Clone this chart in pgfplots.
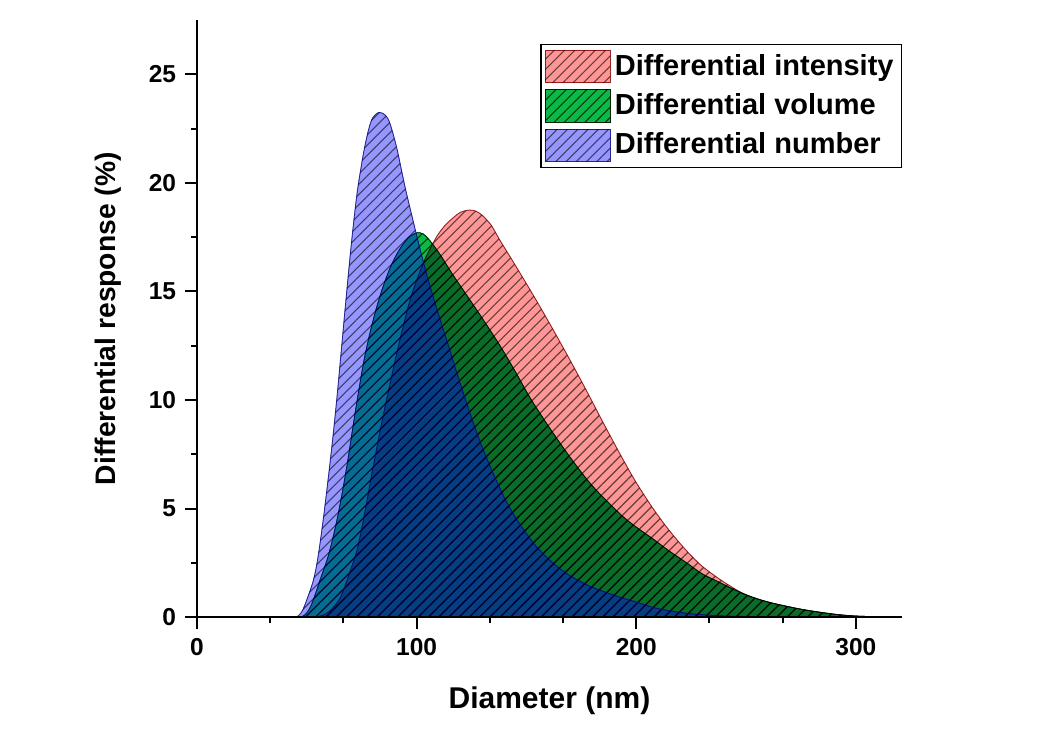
\documentclass[border=0pt]{standalone}
\usepackage{fontspec}
\setmainfont{Liberation Sans}
\usepackage{pgfplots}
\pgfplotsset{compat=1.18}
\usetikzlibrary{patterns.meta}

\definecolor{intcol}{RGB}{255,0,0}
\definecolor{volcol}{RGB}{10,185,70}
\definecolor{numcol}{RGB}{0,0,255}

\pgfplotsset{
  hatch/.style={postaction={pattern={Lines[angle=45,distance=2.9pt,line width=0.45pt]},pattern color=#1}},
  swatch/.style={legend image code/.code={
      \draw[##1] (0bp,-6.4bp) rectangle (26bp,6.4bp);}},
}

\begin{document}
\begin{tikzpicture}
\useasboundingbox (-78.5bp,-52.2bp) rectangle (338.4bp,246bp);
\begin{axis}[
    scale only axis,
    width=281bp, height=238bp,
    xmin=0, xmax=321,
    ymin=0, ymax=27.5,
    axis lines=left,
    axis line style={-, line width=0.8pt},
    axis on top,
    xtick={0,100,200,300},
    minor x tick num=2,
    ytick={0,5,10,15,20,25},
    minor y tick num=1,
    tick align=outside,
    major tick length=4.8bp,
    minor tick length=2.2bp,
    every tick/.style={black, line width=0.8pt},
    /pgf/number format/assume math mode=true,
    tick label style={font=\fontsize{9.8}{12}\selectfont\bfseries},
    xlabel={Diameter (nm)},
    ylabel={Differential response (\%)},
    xlabel style={font=\fontsize{12}{14}\selectfont\bfseries,
      at={(axis description cs:0.5,-0.14)}, anchor=center},
    ylabel style={font=\fontsize{11.3}{14}\selectfont\bfseries,
      at={(axis description cs:-0.1263,0.5)}, anchor=center},
    legend style={at={(axis description cs:1,0.96)}, anchor=north east,
      draw=black, line width=0.5pt, fill=white,
      font=\fontsize{11.6}{13}\selectfont\bfseries,
      row sep=2.6bp, inner xsep=1.5bp, inner ysep=2.2bp,
      nodes={inner sep=1.6bp}},
    legend cell align=left,
    swatch,
]

% Differential intensity
\addplot[smooth, tension=0.5, fill=intcol, fill opacity=0.41,
  draw=intcol!50!black, draw opacity=0.6, line width=0.3pt, hatch=black]
  coordinates {
  (0,0) (40,0) (52,0) (56,0.05) (60,0.25) (65,0.85) (69,1.9) (72.9,3.1)
  (76,4.6) (80,6.8) (84,8.9) (88,10.8) (92,12.6) (97,14.6) (103,16.3)
  (109,17.5) (113,18.05) (116.7,18.4) (120,18.65) (124,18.75) (127,18.7)
  (130,18.5) (134,18.05) (138,17.35) (145,16.2) (153,14.85) (161,13.45)
  (169,12.0) (177,10.5) (185,8.95) (192.7,7.5) (200,6.2) (207.7,5.0)
  (215,4.0) (223,3.05) (230,2.35) (238,1.75) (245,1.3) (250.6,1.0)
  (260,0.7) (268.6,0.5) (276,0.35) (283.8,0.22) (291,0.13) (299,0.06)
  (310,0.02) (321,0)
} \closedcycle;
\addlegendentry{Differential intensity}

% Differential volume
\addplot[smooth, tension=0.5, fill=volcol, blend mode=multiply,
  draw=volcol!50!black, line width=0.3pt, hatch=black!70]
  coordinates {
  (0,0) (35,0) (46,0) (49,0.1) (51,0.35) (53,0.8) (56,1.7) (60,2.9)
  (64,4.6) (68,6.8) (72,9.4) (76,11.8) (80,13.6) (84,15.0) (88,16.1)
  (92,16.9) (96,17.45) (100,17.7) (103,17.65) (106,17.35) (110.7,16.7)
  (116,15.85) (123,14.8) (130,13.75) (138,12.5) (145,11.3) (151.7,10.1)
  (160,8.8) (170,7.35) (180,6.05) (192.7,4.75) (200,4.15) (207.7,3.6)
  (215,3.05) (223,2.5) (230,2.0) (238,1.6) (245,1.25) (253,0.92)
  (260,0.7) (268.6,0.5) (276,0.35) (283.8,0.23) (291,0.13) (299,0.06)
  (310,0.02) (321,0)
} \closedcycle;
\addlegendentry{Differential volume}

% Differential number
\addplot[smooth, tension=0.5, fill=numcol, fill opacity=0.41,
  draw=numcol!50!black, draw opacity=0.6, line width=0.3pt, hatch=black]
  coordinates {
  (0,0) (33,0) (43,0) (46,0.05) (48,0.3) (50,0.8) (53,1.7) (55,2.7)
  (57.5,4.5) (60,6.6) (62,8.4) (64,10.4) (66,12.6) (68,14.8) (70.5,17.4)
  (73,19.6) (75.7,21.3) (78,22.4) (80,23.0) (83,23.25) (86,23.1)
  (88,22.7) (91,21.6) (95,19.7) (100,17.6) (104,16.0) (108,14.6)
  (112,13.3) (115,12.35) (118,11.35) (122,10.1) (126,8.9) (130,7.8)
  (135,6.6) (140,5.5) (145,4.6) (150,3.85) (155,3.2) (162,2.5) (170,1.9)
  (180,1.38) (192.7,0.92) (200,0.7) (207.7,0.45) (215,0.3) (225,0.16)
  (240,0.06) (260,0.02) (280,0) (321,0)
} \closedcycle;
\addlegendentry{Differential number}

\end{axis}
\end{tikzpicture}
\end{document}
